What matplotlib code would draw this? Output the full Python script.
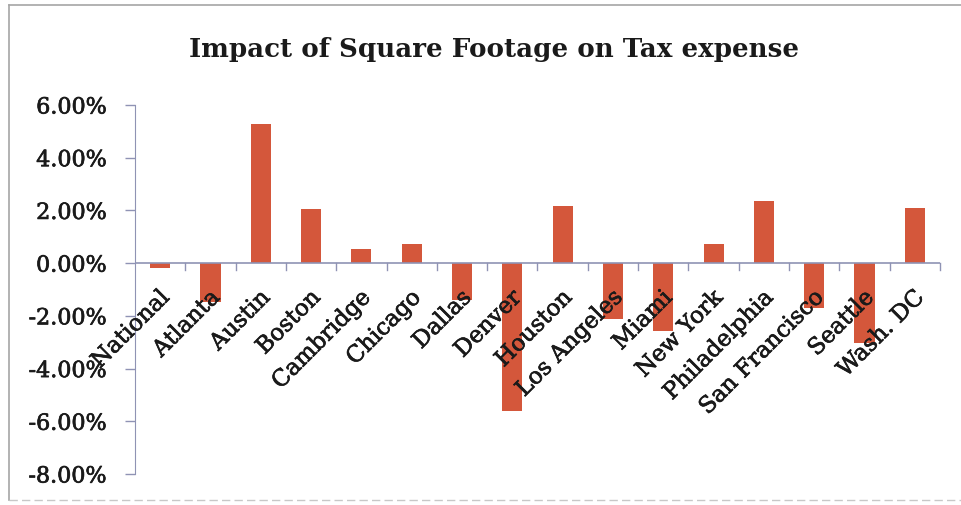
import matplotlib
matplotlib.use('Agg')
import matplotlib.pyplot as plt
import matplotlib.patheffects as pe
from matplotlib.ticker import FuncFormatter, FixedLocator
from matplotlib.lines import Line2D
import numpy as np

plt.rcParams['font.family'] = 'DejaVu Serif'

cities = ['National', 'Atlanta', 'Austin', 'Boston', 'Cambridge', 'Chicago',
          'Dallas', 'Denver', 'Houston', 'Los Angeles', 'Miami', 'New York',
          'Philadelphia', 'San Francisco', 'Seattle', 'Wash. DC']
impact = [-0.20, -1.46, 5.26, 2.06, 0.53, 0.72, -1.40, -5.60, 2.15,
          -2.13, -2.57, 0.73, 2.34, -1.71, -3.04, 2.08]

bar_color = '#d4573b'
axis_color = '#8f93b4'
text_color = '#1a1a1a'
# slightly heavier strokes for the regular-weight text
heavy = [pe.withStroke(linewidth=0.5, foreground=text_color)]

fig = plt.figure(figsize=(9.62, 5.05), dpi=100)
ax = fig.add_axes([0.1403, 0.0614, 0.8368, 0.7307])

x = np.arange(len(cities))
ax.bar(x, impact, width=0.4, color=bar_color, zorder=2)

ax.set_xlim(-0.5, len(cities) - 0.5)
ax.set_ylim(-8, 6)
ax.set_yticks(np.arange(-8, 7, 2))
ax.yaxis.set_major_formatter(FuncFormatter(lambda v, *a: '%.2f%%' % v))
ax.tick_params(axis='y', direction='out', length=7, width=1, color=axis_color,
               labelsize=16, pad=13, labelcolor=text_color)
for lbl in ax.get_yticklabels():
    lbl.set_path_effects(heavy)

# category axis sits on the zero line, ticks between categories
for s in ['top', 'right', 'bottom']:
    ax.spines[s].set_visible(False)
ax.spines['left'].set_color(axis_color)
ax.axhline(0, color=axis_color, lw=1.2, zorder=3)
ax.xaxis.set_major_locator(FixedLocator([]))
for b in np.arange(0.5, len(cities), 1.0):
    ax.plot([b, b], [0, -0.26], color=axis_color, lw=1, zorder=3,
            clip_on=False)

for i, name in enumerate(cities):
    ax.annotate(name, xy=(i, 0), xytext=(-1.5, -17), textcoords='offset points',
                rotation=45, ha='right', va='top', rotation_mode='anchor',
                fontsize=16.5, color=text_color, zorder=4, path_effects=heavy)

fig.text(0.513, 0.901, 'Impact of Square Footage on Tax expense',
         ha='center', va='center', fontsize=18.8, fontweight='bold',
         color=text_color)

# light frame around the chart area
frame = dict(color='#a6a6a6', lw=1.2, transform=fig.transFigure)
fig.add_artist(Line2D([9 / 962, 1.0], [1 - 5 / 505, 1 - 5 / 505], **frame))
fig.add_artist(Line2D([9 / 962, 9 / 962], [1 - 5 / 505, 1 - 500 / 505], **frame))
fig.add_artist(Line2D([9 / 962, 1.0], [1 - 500 / 505, 1 - 500 / 505],
                      color='#c8c8c8', lw=1, ls=(0, (6, 3)),
                      transform=fig.transFigure))

fig.savefig('out.png', dpi=100)
